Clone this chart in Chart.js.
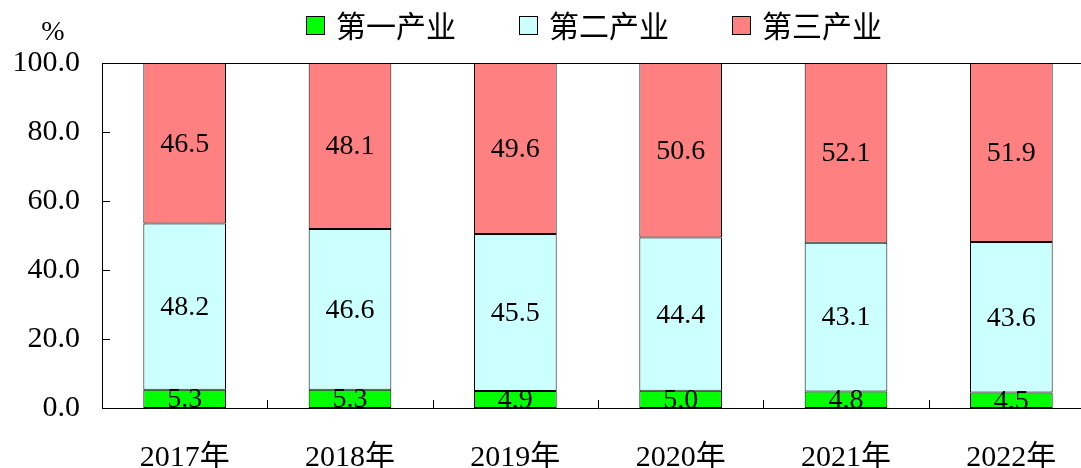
<!DOCTYPE html>
<html><head><meta charset="utf-8">
<script src="https://cdn.jsdelivr.net/npm/chart.js@4"></script>
<style>
html,body{margin:0;padding:0;background:#fff;overflow:hidden;}
#wrap{position:relative;width:1100px;height:468px;}
</style></head><body>
<div id="wrap"><canvas id="c"></canvas></div>
<script>
const categories = ['2017年','2018年','2019年','2020年','2021年','2022年'];
const primary = [5.3, 5.3, 4.9, 5.0, 4.8, 4.5];
const secondary = [48.2, 46.6, 45.5, 44.4, 43.1, 43.6];
const tertiary = [46.5, 48.1, 49.6, 50.6, 52.1, 51.9];
const seriesNames = ['第一产业', '第二产业', '第三产业'];
const seriesColors = ['#00FF00', '#CCFFFF', '#FF8080'];
const yMin = 0, yMax = 100, yStep = 20;
const unitLabel = '%';

const serif = "'Liberation Serif', 'Times New Roman', 'Noto Sans CJK SC', serif";
const cjk = "'Noto Sans CJK SC', sans-serif";

const helper = {
  id: 'helper',
  afterDatasetsDraw(chart) {
    const ctx = chart.ctx;
    ctx.save();
    ctx.font = "28px " + serif;
    ctx.fillStyle = '#000';
    ctx.textAlign = 'center';
    ctx.textBaseline = 'middle';
    chart.data.datasets.forEach((ds, i) => {
      const meta = chart.getDatasetMeta(i);
      meta.data.forEach((bar, j) => {
        const y = (bar.y + bar.base) / 2;
        ctx.fillText(ds.data[j].toFixed(1), bar.x, y + 1);
      });
    });
    ctx.restore();
  },
  afterDraw(chart) {
    const ctx = chart.ctx, a = chart.chartArea;
    const xs = chart.scales.x, ys = chart.scales.y;
    ctx.save();
    ctx.strokeStyle = '#000';
    ctx.lineWidth = 1;
    ctx.beginPath();
    const ty = Math.round(a.top) + 0.5;
    ctx.moveTo(a.left, ty); ctx.lineTo(a.right, ty);
    ys.ticks.forEach(t => {
      const py = Math.round(ys.getPixelForValue(t.value)) + 0.5;
      ctx.moveTo(a.left, py); ctx.lineTo(a.left + 8, py);
    });
    for (let i = 0; i < categories.length - 1; i++) {
      const px = Math.round((xs.getPixelForTick(i) + xs.getPixelForTick(i + 1)) / 2) + 0.5;
      ctx.moveTo(px, a.bottom); ctx.lineTo(px, a.bottom - 8);
    }
    ctx.stroke();
    // unit label
    ctx.font = "28px " + serif;
    ctx.fillStyle = '#000';
    ctx.textAlign = 'center';
    ctx.textBaseline = 'middle';
    ctx.fillText(unitLabel, a.left - 49, a.top - 30);
    // legend
    const box = 19, gap = 11, spacing = 63;
    ctx.font = "30px " + cjk;
    const items = chart.data.datasets.map(ds => ({ label: ds.label, color: ds.backgroundColor,
      w: box + gap + ctx.measureText(ds.label).width }));
    const total = items.reduce((s, it) => s + it.w, 0) + spacing * (items.length - 1);
    let x = Math.round(a.left + 492 - total / 2);
    const boxTop = 16, textMid = 26;
    ctx.textAlign = 'left';
    items.forEach(it => {
      ctx.fillStyle = it.color;
      ctx.fillRect(x, boxTop, box, box);
      ctx.strokeStyle = '#000';
      ctx.strokeRect(x + 0.5, boxTop + 0.5, box - 1, box - 1);
      ctx.fillStyle = '#000';
      ctx.fillText(it.label, x + box + gap, textMid);
      x += it.w + spacing;
    });
    ctx.restore();
  }
};

new Chart(document.getElementById('c'), {
  type: 'bar',
  data: {
    labels: categories,
    datasets: [
      { label: seriesNames[0], data: primary, backgroundColor: seriesColors[0] },
      { label: seriesNames[1], data: secondary, backgroundColor: seriesColors[1] },
      { label: seriesNames[2], data: tertiary, backgroundColor: seriesColors[2] }
    ].map(d => Object.assign(d, { borderColor: '#000', borderWidth: 1, borderSkipped: false,
      categoryPercentage: 1, barPercentage: 0.5 }))
  },
  options: {
    responsive: true,
    maintainAspectRatio: false,
    animation: false,
    layout: { padding: { left: 0, right: 6, top: 63, bottom: 0 } },
    plugins: {
      legend: { display: false },
      tooltip: { enabled: false }
    },
    scales: {
      x: {
        stacked: true,
        grid: { display: false },
        border: { display: true, color: '#000', width: 1 },
        ticks: { color: '#000', font: { size: 30, family: serif }, padding: 24, maxRotation: 0 },
        afterFit(s) { s.height = 60; }
      },
      y: {
        stacked: true,
        min: yMin, max: yMax,
        grid: { display: false, drawTicks: false },
        border: { display: true, color: '#000', width: 1 },
        ticks: { stepSize: yStep, color: '#000', padding: 22, font: { size: 30, family: serif },
          callback: v => Number(v).toFixed(1) },
        afterFit(s) { s.width = 102; }
      }
    }
  },
  plugins: [helper]
});
</script>
</body></html>
